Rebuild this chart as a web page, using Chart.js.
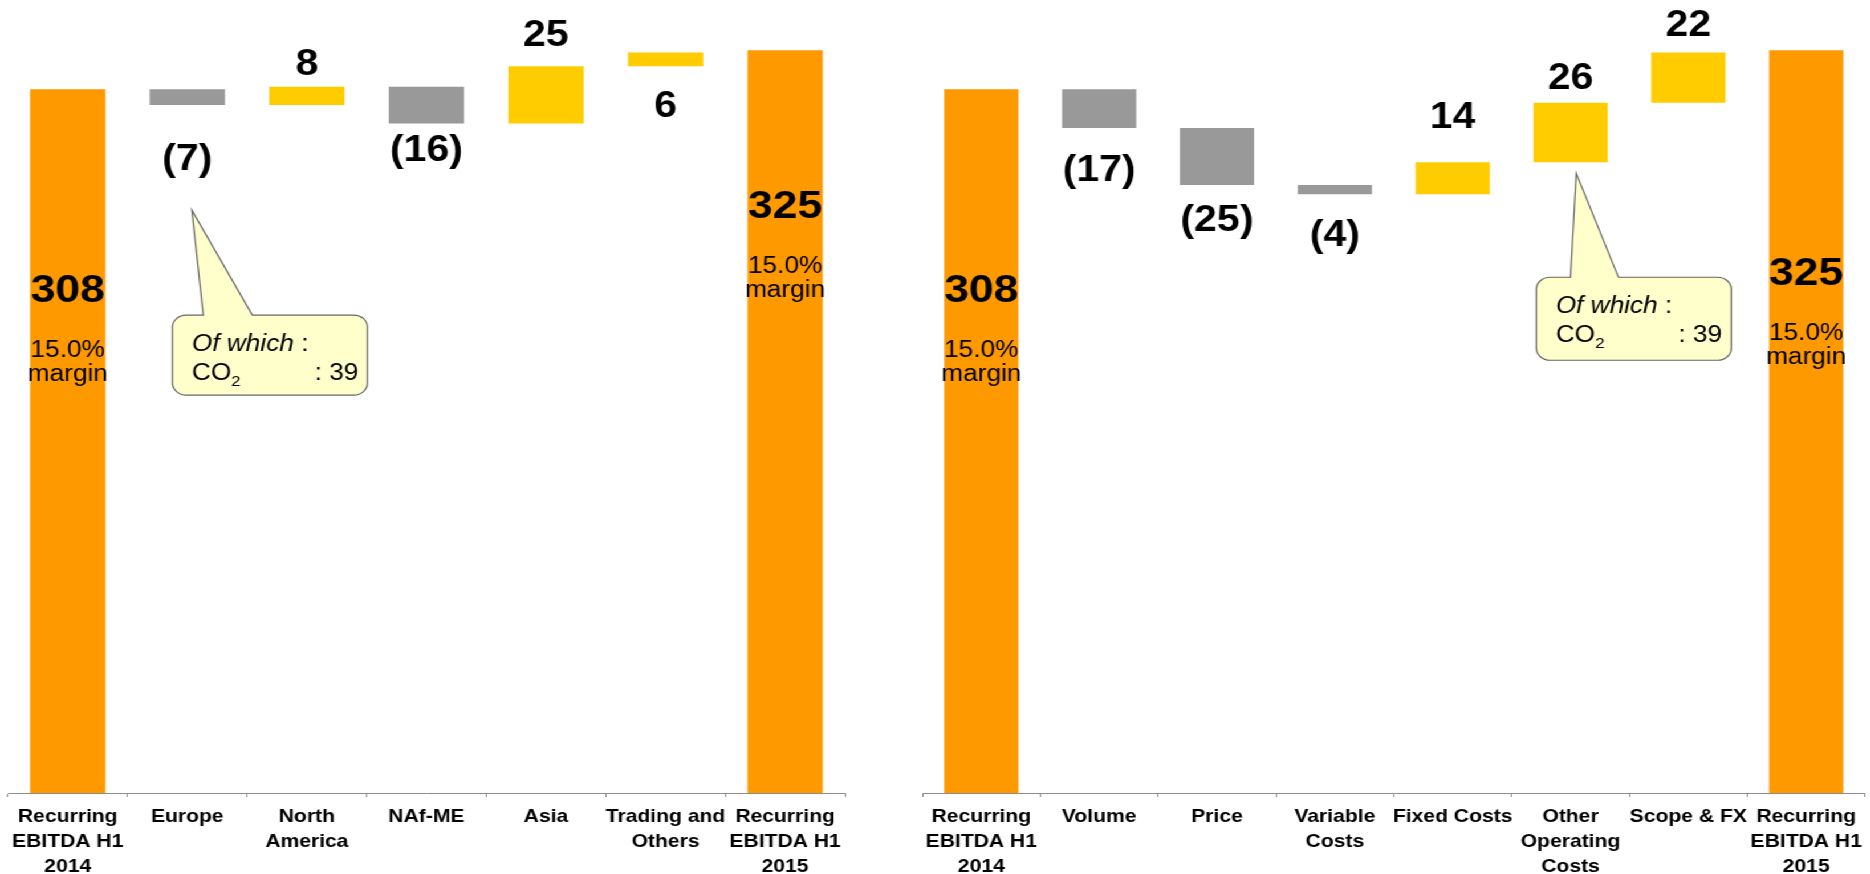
<!DOCTYPE html>
<html>
<head>
<meta charset="utf-8">
<script src="https://cdn.jsdelivr.net/npm/chart.js@4.4.1/dist/chart.umd.min.js"></script>
<style>
html, body { margin: 0; padding: 0; background: #fff; overflow: hidden; }
/* the reference is drawn a little wide, so the whole page is stretched sideways */
#wrap { position: absolute; left: 0; top: 0; width: 1640px; height: 874px; transform: scaleX(1.1402); transform-origin: 0 0; }
.box { position: absolute; top: 0; height: 874px; }
#b1 { left: 0; width: 750px; }
#b2 { left: 790px; width: 850px; }
</style>
</head>
<body>
<div id="wrap">
	<div class="box" id="b1"><canvas id="c1"></canvas></div>
	<div class="box" id="b2"><canvas id="c2"></canvas></div>
</div>
<script>
var leftCategories = [['Recurring', 'EBITDA H1', '2014'], 'Europe', ['North', 'America'], 'NAf-ME', 'Asia', ['Trading and', 'Others'], ['Recurring', 'EBITDA H1', '2015']];
var leftValues = [308, -7, 8, -16, 25, 6, 325];
var leftMargins = ['15.0%', '', '', '', '', '', '15.0%'];

var rightCategories = [['Recurring', 'EBITDA H1', '2014'], 'Volume', 'Price', ['Variable', 'Costs'], 'Fixed Costs', ['Other', 'Operating', 'Costs'], 'Scope & FX', ['Recurring', 'EBITDA H1', '2015']];
var rightValues = [308, -17, -25, -4, 14, 26, 22, 325];
var rightMargins = ['15.0%', '', '', '', '', '', '', '15.0%'];

var calloutLines = ['Of which', 'CO', ': 39'];
var yMax = 347;

var FONT = '"Liberation Sans", Arial, sans-serif';

// start bars and end bars go from 0, the steps float on the running total
function bridge(values) {
	var out = [], run = 0;
	for (var i = 0; i < values.length; i++) {
		if (i === 0 || i === values.length - 1) {
			out.push([0, values[i]]);
			run = values[i];
		} else {
			out.push([run, run + values[i]]);
			run += values[i];
		}
	}
	return out;
}

function colours(values) {
	return values.map(function(v, i) {
		if (i === 0 || i === values.length - 1) return '#FF9900';
		return v < 0 ? '#999999' : '#FFCC00';
	});
}

function calloutPath(ctx, L, T, R, B, r, tl, tr, tx, ty) {
	ctx.beginPath();
	ctx.moveTo(L + r, T);
	ctx.lineTo(tl, T);
	ctx.lineTo(tx, ty);
	ctx.lineTo(tr, T);
	ctx.lineTo(R - r, T);
	ctx.arcTo(R, T, R, T + r, r);
	ctx.lineTo(R, B - r);
	ctx.arcTo(R, B, R - r, B, r);
	ctx.lineTo(L + r, B);
	ctx.arcTo(L, B, L, B - r, r);
	ctx.lineTo(L, T + r);
	ctx.arcTo(L, T, L + r, T, r);
	ctx.closePath();
}

var waterfallLabels = {
	id: 'waterfallLabels',
	afterDatasetsDraw: function(chart, args, opts) {
		var ctx = chart.ctx, xs = chart.scales.x, ys = chart.scales.y;
		var data = chart.data.datasets[0].data;
		ctx.save();
		ctx.fillStyle = '#000';
		ctx.textAlign = 'center';
		ctx.textBaseline = 'alphabetic';
		for (var i = 0; i < opts.values.length; i++) {
			var v = opts.values[i];
			var cx = xs.getPixelForValue(i);
			var top = ys.getPixelForValue(Math.max(data[i][0], data[i][1]));
			var bot = ys.getPixelForValue(Math.min(data[i][0], data[i][1]));
			var side = opts.side[i], gap = opts.gap[i];
			if (side === 'in') {
				ctx.font = 'bold 39px ' + FONT;
				ctx.fillText(String(v), cx, top + gap);
				ctx.font = '23px ' + FONT;
				ctx.fillText(opts.margins[i], cx, top + gap + 55);
				ctx.fillText('margin', cx, top + gap + 79);
			} else {
				var txt = v < 0 ? '(' + (-v) + ')' : String(v);
				ctx.font = 'bold 36px ' + FONT;
				ctx.fillText(txt, cx, side === 'above' ? top - gap : bot + gap);
			}
		}

		// callout box with its pointer
		var c = opts.callout;
		var bx = xs.getPixelForValue(c.index);
		var bb = ys.getPixelForValue(Math.min(data[c.index][0], data[c.index][1]));
		var L = bx + c.left, R = bx + c.right, T = bb + c.top, B = T + c.height;
		calloutPath(ctx, L, T, R, B, 12, bx + c.tailL, bx + c.tailR, bx + c.tipDx, bb + c.tipDy);
		ctx.fillStyle = '#FFFFCC';
		ctx.fill();
		ctx.strokeStyle = '#666666';
		ctx.lineWidth = 1.2;
		ctx.stroke();

		ctx.fillStyle = '#000';
		ctx.textAlign = 'left';
		ctx.font = 'italic 23px ' + FONT;
		ctx.fillText(calloutLines[0], L + 17, T + 36);
		var w = ctx.measureText(calloutLines[0]).width;
		ctx.font = '23px ' + FONT;
		ctx.fillText(' :', L + 17 + w, T + 36);
		ctx.fillText(calloutLines[1], L + 17, T + 65);
		var w2 = ctx.measureText(calloutLines[1]).width;
		ctx.font = '15px ' + FONT;
		ctx.fillText('2', L + 17 + w2, T + 71);
		ctx.font = '23px ' + FONT;
		ctx.textAlign = 'right';
		ctx.fillText(calloutLines[2], R - 8, T + 65);
		ctx.restore();
	}
};

function makeChart(id, categories, values, margins, padding, labelOpts) {
	var ctx = document.getElementById(id);
	return new Chart(ctx, {
		type: 'bar',
		data: {
			labels: categories,
			datasets: [{
				data: bridge(values),
				backgroundColor: colours(values),
				borderWidth: 0,
				borderSkipped: false,
				barPercentage: 0.63,
				categoryPercentage: 1.0
			}]
		},
		options: {
			responsive: true,
			maintainAspectRatio: false,
			animation: false,
			layout: { padding: padding },
			plugins: {
				legend: { display: false },
				tooltip: { enabled: false },
				waterfallLabels: Object.assign({ values: values, margins: margins }, labelOpts)
			},
			scales: {
				x: {
					offset: true,
					grid: { display: true, drawOnChartArea: false, drawTicks: true, tickLength: 4, color: '#8c8c8c', offset: true },
					border: { display: true, color: '#8c8c8c', width: 1 },
					ticks: {
						color: '#000',
						font: { family: FONT, weight: 'bold', size: 18.5, lineHeight: 1.35 },
						padding: 7,
						maxRotation: 0,
						autoSkip: false
					},
					afterFit: function(s) { s.height = 81; }
				},
				y: { display: false, min: 0, max: yMax }
			}
		},
		plugins: [waterfallLabels]
	});
}

makeChart('c1', leftCategories, leftValues, leftMargins, { left: 7, right: 9, top: 0, bottom: 0 }, {
	side: ['in', 'below', 'above', 'below', 'above', 'below', 'in'],
	gap: [213, 65, 12, 38, 20, 51, 168],
	callout: { index: 1, tipDx: 4, tipDy: 105, left: -13, right: 158, top: 210, height: 80, tailL: 14, tailR: 57 }
});

makeChart('c2', rightCategories, rightValues, rightMargins, { left: 19, right: 1, top: 0, bottom: 0 }, {
	side: ['in', 'below', 'below', 'below', 'above', 'above', 'above', 'in'],
	gap: [213, 53, 46, 52, 34, 14, 17, 235],
	callout: { index: 5, tipDx: 5, tipDy: 11, left: -30, right: 141, top: 115, height: 83, tailL: 0, tailR: 42 }
});
</script>
</body>
</html>
